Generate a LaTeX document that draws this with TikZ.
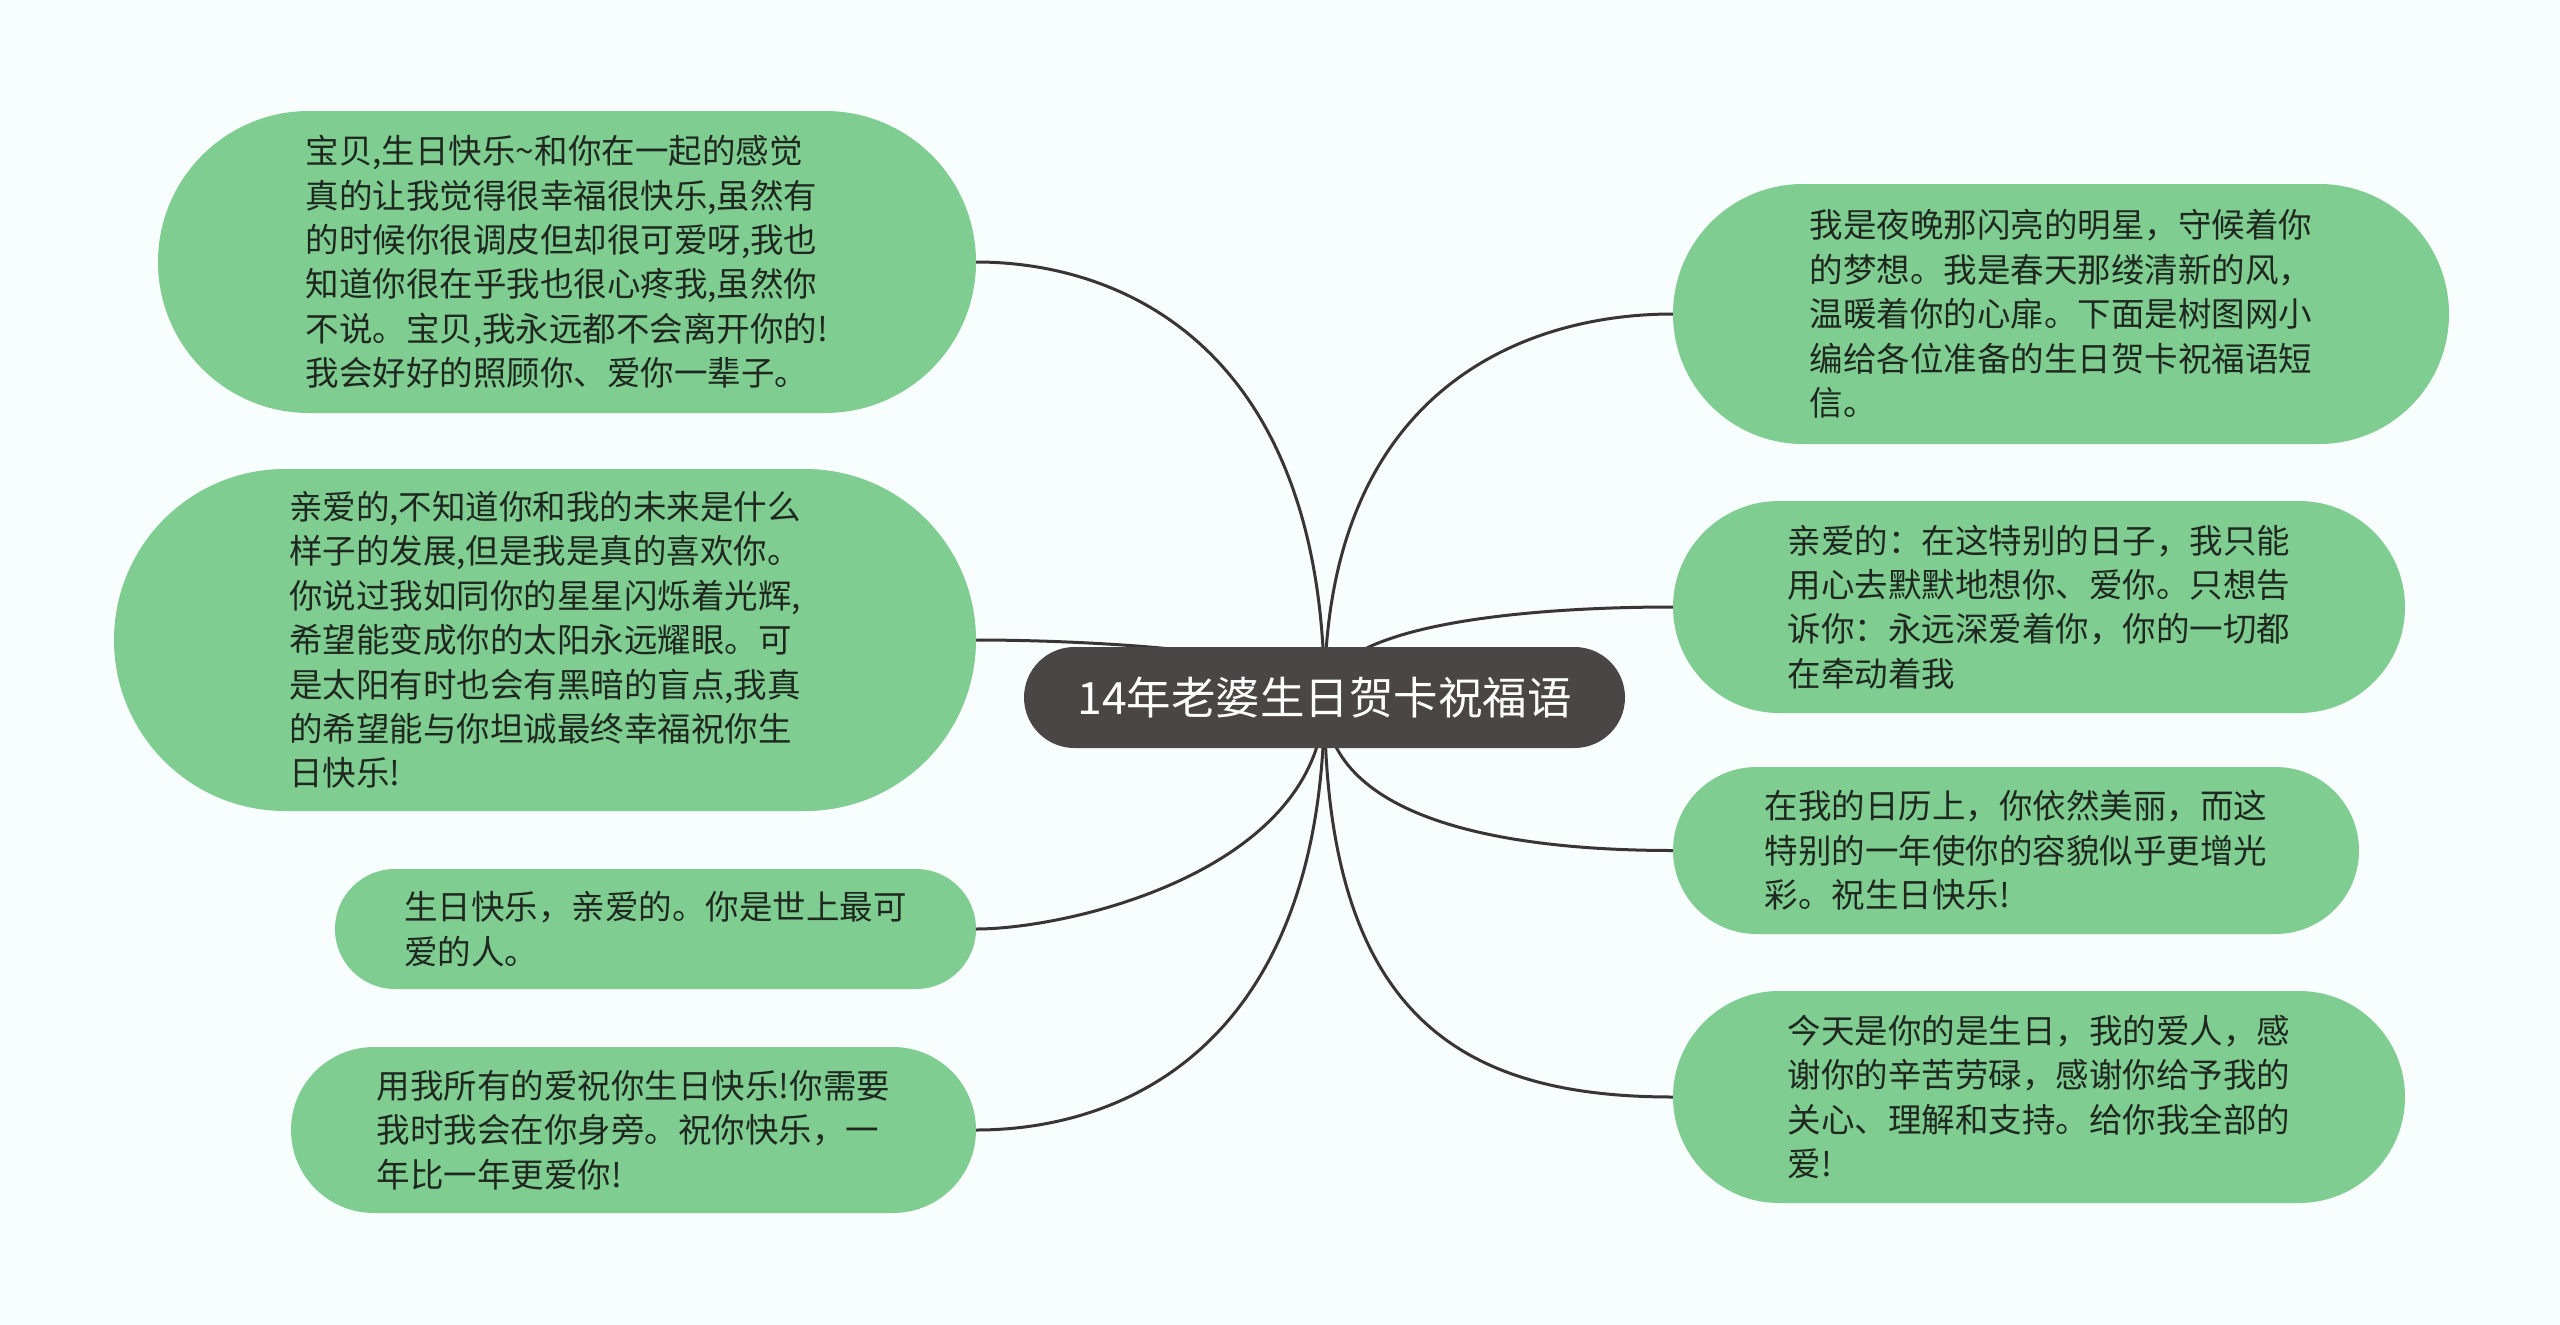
\documentclass[tikz,border=0pt]{standalone}
\usepackage{fontspec}
\setmainfont{Noto Sans CJK SC}
\definecolor{bgc}{HTML}{F8FDFD}
\definecolor{leafc}{HTML}{80CD92}
\definecolor{rootc}{HTML}{4B4646}
\definecolor{linec}{HTML}{3A3535}
\definecolor{txtc}{HTML}{1E281F}
\pgfdeclarelayer{back}
\pgfdeclarelayer{lines}
\pgfsetlayers{back,lines,main}
\begin{document}
\begin{tikzpicture}[x=1pt,y=-1pt,
  leaf/.style={fill=leafc, draw=none, align=left, text=txtc,
    font=\fontsize{33.5}{44.4}\selectfont, inner sep=0pt},
  root/.style={fill=rootc, draw=none, text=white,
    font=\fontsize{44.5}{50}\selectfont, inner sep=0pt},
  conn/.style={draw=linec, line width=3pt}]
\begin{pgfonlayer}{back}
\fill[bgc] (0,0) rectangle (2560,1325);
\end{pgfonlayer}
\useasboundingbox (0,0) rectangle (2560,1325);

\node[root, minimum width=601pt, minimum height=101pt, rounded corners=50.5pt] (root) at (1324.5,697.5) {14年老婆生日贺卡祝福语};

\node[leaf, minimum width=818pt, minimum height=302pt, rounded corners=151pt] (L1) at (567,262)
{宝贝,生日快乐\textasciitilde 和你在一起的感觉\\真的让我觉得很幸福很快乐,虽然有\\的时候你很调皮但却很可爱呀,我也\\知道你很在乎我也很心疼我,虽然你\\不说。宝贝,我永远都不会离开你的!\\我会好好的照顾你、爱你一辈子。};

\node[leaf, minimum width=862pt, minimum height=342pt, rounded corners=171pt] (L2) at (545,640)
{亲爱的,不知道你和我的未来是什么\\样子的发展,但是我是真的喜欢你。\\你说过我如同你的星星闪烁着光辉,\\希望能变成你的太阳永远耀眼。可\\是太阳有时也会有黑暗的盲点,我真\\的希望能与你坦诚最终幸福祝你生\\日快乐!};

\node[leaf, minimum width=641pt, minimum height=120pt, rounded corners=60pt] (L3) at (655.5,929)
{生日快乐，亲爱的。你是世上最可\\爱的人。};

\node[leaf, minimum width=685pt, minimum height=166pt, rounded corners=83pt] (L4) at (633.5,1130)
{用我所有的爱祝你生日快乐!你需要\\我时我会在你身旁。祝你快乐，一\\年比一年更爱你!};

\node[leaf, minimum width=776pt, minimum height=260pt, rounded corners=130pt] (R1) at (2061,314)
{我是夜晚那闪亮的明星，守候着你\\的梦想。我是春天那缕清新的风，\\温暖着你的心扉。下面是树图网小\\编给各位准备的生日贺卡祝福语短\\信。};

\node[leaf, minimum width=732pt, minimum height=212pt, rounded corners=106pt] (R2) at (2039,607)
{亲爱的：在这特别的日子，我只能\\用心去默默地想你、爱你。只想告\\诉你：永远深爱着你，你的一切都\\在牵动着我};

\node[leaf, minimum width=686pt, minimum height=167pt, rounded corners=83.5pt] (R3) at (2016,850.5)
{在我的日历上，你依然美丽，而这\\特别的一年使你的容貌似乎更增光\\彩。祝生日快乐!};

\node[leaf, minimum width=732pt, minimum height=212pt, rounded corners=106pt] (R4) at (2039,1097)
{今天是你的是生日，我的爱人，感\\谢你的辛苦劳碌，感谢你给予我的\\关心、理解和支持。给你我全部的\\爱!};

\begin{pgfonlayer}{lines}
\draw[conn] (root.center) .. controls (1324,350) and (1125,262) .. (L1.east);
\draw[conn] (root.center) .. controls (1324,650) and (1080,640) .. (L2.east);
\draw[conn] (root.center) .. controls (1324,870) and (1070,929) .. (L3.east);
\draw[conn] (root.center) .. controls (1324,1040) and (1130,1130) .. (L4.east);
\draw[conn] (root.center) .. controls (1324,390) and (1523,314) .. (R1.west);
\draw[conn] (root.center) .. controls (1324,625) and (1523,607) .. (R2.west);
\draw[conn] (root.center) .. controls (1324,820) and (1505,850.5) .. (R3.west);
\draw[conn] (root.center) .. controls (1324,1016) and (1460,1097) .. (R4.west);
\end{pgfonlayer}
\end{tikzpicture}
\end{document}
